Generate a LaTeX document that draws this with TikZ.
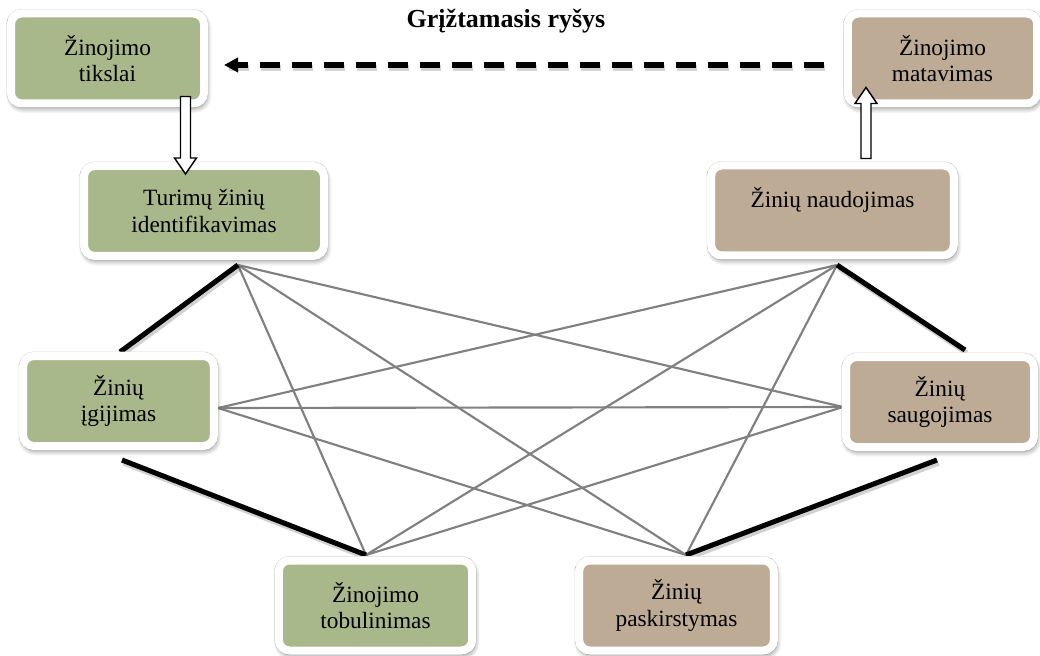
\documentclass[tikz,border=0pt]{standalone}
\usepackage{fontspec}
\setmainfont{Liberation Serif}
\usetikzlibrary{calc,arrows.meta,shadows.blur}

\definecolor{sage}{RGB}{169,184,138}
\definecolor{taupe}{RGB}{189,171,149}
\definecolor{linkgray}{RGB}{128,128,128}
\definecolor{rim}{RGB}{215,215,215}

\tikzset{
  stage/.style={draw=white, line width=6pt, rounded corners=8pt,
    align=center, inner sep=0pt, minimum height=67.5pt,
    font=\fontsize{17.5}{20}\selectfont,
    blur shadow={shadow xshift=1pt, shadow yshift=-2.5pt,
      shadow blur radius=5pt, shadow blur steps=10, shadow opacity=60},
    append after command={
      \pgfextra{\draw[rim, line width=0.6pt, rounded corners=11pt]
        (\tikzlastnode.south west) rectangle (\tikzlastnode.north east);}}},
  greenstage/.style={stage, fill=sage},
  tanstage/.style={stage, fill=taupe},
  strong/.style={line width=3.8pt, black},
  weak/.style={line width=1.6pt, linkgray},
  shade/.style={line width=4pt, black, opacity=0.18,
    transform canvas={shift={(1.2pt,-2.2pt)}}},
  hollow/.style={draw=black, fill=white, line width=1.1pt, line join=miter},
  feedback/.style={line width=3.8pt, black, dash pattern=on 15pt off 9pt,
    -{Triangle[length=10.5pt, width=10.5pt]}},
}

\begin{document}
\begin{tikzpicture}[x=0.75pt, y=-0.75pt]
  \useasboundingbox (0,0) rectangle (1040,656);

  % centres of the eight stages
  \path (107.5,58.5)  coordinate (c1)
        (942.5,58.5)  coordinate (c2)
        (204,211)     coordinate (c3)
        (832.5,210.5) coordinate (c4)
        (118.5,401)   coordinate (c5)
        (940,402)     coordinate (c6)
        (375.5,605.5) coordinate (c7)
        (676.5,605.5) coordinate (c8);

  % link ends around each stage
  \coordinate (A) at ($(c3)+(34,54)$);
  \coordinate (B) at ($(c4)+(4.5,54.5)$);
  \coordinate (C) at ($(c5)+(1.5,-49)$);
  \coordinate (D) at ($(c5)+(3.5,59)$);
  \coordinate (E) at ($(c5)+(99.5,7)$);
  \coordinate (F) at ($(c6)+(25,-52)$);
  \coordinate (G) at ($(c6)+(-3,58)$);
  \coordinate (H) at ($(c6)+(-97,5)$);
  \coordinate (I) at ($(c7)+(-9.5,-50.5)$);
  \coordinate (J) at ($(c8)+(9.5,-50.5)$);

  % thin grey links
  \foreach \p/\q in {A/H, A/I, A/J, B/E, B/I, B/J, E/H, E/J, H/I}
    \draw[weak] (\p) -- (\q);

  % heavy black links with a soft shade
  \foreach \p/\q in {A/C, B/F, D/I, G/J} {
    \draw[shade] (\p) -- (\q);
    \draw[strong] (\p) -- (\q);
  }

  % stages
  \node[greenstage, minimum width=144.75pt] (n1) at (c1) {Žinojimo\\tikslai};
  \node[tanstage,   minimum width=142pt]    (n2) at (c2) {Žinojimo\\matavimas};
  \node[greenstage, minimum width=180pt]    (n3) at (c3) {Turimų žinių\\identifikavimas};
  \node[tanstage,   minimum width=182pt]    (n4) at (c4) {Žinių naudojimas\\\mbox{}};
  \node[greenstage, minimum width=143pt]    (n5) at (c5) {Žinių\\įgijimas};
  \node[tanstage,   minimum width=141pt]    (n6) at (c6) {Žinių\\saugojimas};
  \node[greenstage, minimum width=145pt]    (n7) at (c7) {Žinojimo\\tobulinimas};
  \node[tanstage,   minimum width=146pt]    (n8) at (c8) {Žinių\\paskirstymas};

  % feedback arrow and its caption
  \node[font=\fontsize{19.5}{22}\selectfont\bfseries] (fb) at (506,21) {Grįžtamasis ryšys};
  \coordinate (fbs) at ($(n2.west)+(-20,6.5)$);
  \coordinate (fbe) at ($(n1.east)+(16,6.5)$);
  \draw[shade, dash pattern=on 15pt off 9pt] (fbs) -- (fbe);
  \draw[feedback] (fbs) -- (fbe);

  % hollow block arrows
  \coordinate (s1) at ($(n1.south)+(78,-11)$);
  \coordinate (t1) at ($(n3.north)+(-18.5,12)$);
  \filldraw[hollow] ($(s1)+(-5,0)$) -- ($(s1)+(5,0)$) -- ($(t1)+(5,-16)$)
    -- ($(t1)+(11,-16)$) -- (t1) -- ($(t1)+(-11,-16)$) -- ($(t1)+(-5,-16)$) -- cycle;

  \coordinate (s2) at ($(n4.north)+(33.5,-3)$);
  \coordinate (t2) at ($(n2.south)+(-76.5,-20)$);
  \filldraw[hollow] ($(s2)+(-5,0)$) -- ($(s2)+(5,0)$) -- ($(t2)+(5,16)$)
    -- ($(t2)+(11,16)$) -- (t2) -- ($(t2)+(-11,16)$) -- ($(t2)+(-5,16)$) -- cycle;
\end{tikzpicture}
\end{document}
